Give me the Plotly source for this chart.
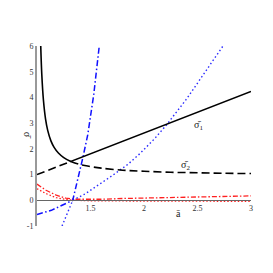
import plotly.graph_objects as go

# --- black branches: hyperbola-like curve and straight line ---
hyp_a = [1.035, 1.045, 1.06, 1.08, 1.10, 1.13, 1.16, 1.20, 1.25, 1.316,
         1.40, 1.50, 1.60, 1.80, 2.00, 2.25, 2.50, 2.75, 3.00]
hyp_s = [6.00, 4.88, 3.90, 3.16, 2.72, 2.31, 2.06, 1.84, 1.66, 1.51,
         1.39, 1.31, 1.25, 1.17, 1.13, 1.09, 1.07, 1.05, 1.04]
lin_a = [1.0, 1.316, 3.0]
lin_s = [1.0, 1.51, 4.23]
black_cross = 1.316

# --- blue branches: gentle curve f and steep curve g ---
f_a = [1.0, 1.134, 1.334, 1.45, 1.551, 1.70, 1.85, 1.963, 2.10, 2.21, 2.40, 2.60, 2.738]
f_s = [-0.55, -0.39, 0.0, 0.25, 0.52, 0.95, 1.40, 1.82, 2.40, 2.93, 3.95, 5.15, 6.0]
g_a = [1.234, 1.29, 1.334, 1.38, 1.427, 1.474, 1.53, 1.582]
g_s = [-1.0, -0.45, 0.0, 0.75, 1.63, 2.54, 4.10, 6.0]
blue_cross = 1.334

# --- red curves ---
red_dd_a = [1.0, 1.084, 1.18, 1.27, 1.35, 1.45, 1.6, 1.8, 2.0, 2.25, 2.5, 2.75, 3.0]
red_dd_s = [0.63, 0.39, 0.20, 0.08, 0.04, 0.03, 0.04, 0.07, 0.09, 0.11, 0.13, 0.15, 0.17]
red_dot_a = [1.0, 1.084, 1.18, 1.27, 1.35, 1.5, 2.0, 2.5, 3.0]
red_dot_s = [0.45, 0.26, 0.10, 0.03, 0.0, -0.02, -0.03, -0.04, -0.04]

x_tickvals = [1.5, 2, 2.5, 3]
x_ticktext = ["1.5", "2", "2.5", "3"]
y_tickvals = [-1, 0, 1, 2, 3, 4, 5, 6]
y_ticktext = ["-1", "0", "1", "2", "3", "4", "5", "6"]


def part(xs, ys, lo, hi):
    px, py = [], []
    for x, y in zip(xs, ys):
        if lo - 1e-9 <= x <= hi + 1e-9:
            px.append(x)
            py.append(y)
    return px, py


def join(p1, p2):
    return p1[0] + p2[0], p1[1] + p2[1]


solid_black = join(part(hyp_a, hyp_s, 0, black_cross), part(lin_a, lin_s, black_cross, 9))
dash_black = join(part(lin_a, lin_s, 0, black_cross), part(hyp_a, hyp_s, black_cross, 9))
dd_blue = join(part(f_a, f_s, 0, blue_cross), part(g_a, g_s, blue_cross, 9))
dot_blue = join(part(g_a, g_s, 0, blue_cross), part(f_a, f_s, blue_cross, 9))

SERIF = "Liberation Serif, Times New Roman, serif"

fig = go.Figure()
fig.add_trace(go.Scatter(x=red_dot_a, y=red_dot_s, mode="lines",
                         line=dict(color="#ff2020", width=1.3, dash="1.5px,2px")))
fig.add_trace(go.Scatter(x=red_dd_a, y=red_dd_s, mode="lines",
                         line=dict(color="#ff2020", width=1.3, dash="5px,2px,1.5px,2px")))
fig.add_trace(go.Scatter(x=dot_blue[0], y=dot_blue[1], mode="lines",
                         line=dict(color="#2a2aff", width=1.4, dash="1.5px,2.5px")))
fig.add_trace(go.Scatter(x=dd_blue[0], y=dd_blue[1], mode="lines",
                         line=dict(color="#1010ff", width=1.5, dash="6px,2.5px,1.5px,2.5px")))
fig.add_trace(go.Scatter(x=dash_black[0], y=dash_black[1], mode="lines", line_shape="spline",
                         line=dict(color="black", width=1.6, dash="8px,4px")))
fig.add_trace(go.Scatter(x=solid_black[0], y=solid_black[1], mode="lines", line_shape="spline",
                         line=dict(color="black", width=1.6)))

fig.update_layout(
    width=265, height=265,
    margin=dict(l=29, r=22, t=38, b=47),
    plot_bgcolor="white", paper_bgcolor="white",
    showlegend=False,
    font=dict(family=SERIF, size=8, color="#333"),
    xaxis=dict(range=[1, 3], anchor="free", position=1 / 7,
               showline=True, linecolor="#666", linewidth=1,
               tickvals=x_tickvals, ticktext=x_ticktext, ticks="",
               showgrid=False, zeroline=False,
               tickfont=dict(family=SERIF, size=8, color="#333")),
    yaxis=dict(range=[-1, 6], showline=True, linecolor="#999", linewidth=2,
               tickvals=y_tickvals, ticktext=y_ticktext, ticks="",
               showgrid=False, zeroline=False,
               tickfont=dict(family=SERIF, size=8, color="#333")),
    annotations=[
        dict(x=2.505, y=2.92, xref="x", yref="y", text="\u03c3\u0304<sub>1</sub>",
             showarrow=False, font=dict(family=SERIF, size=10, color="#222")),
        dict(x=2.39, y=1.36, xref="x", yref="y", text="\u03c3\u0304<sub>2</sub>",
             showarrow=False, font=dict(family=SERIF, size=10, color="#222")),
        dict(x=2.32, y=-0.51, xref="x", yref="y", text="a\u0304",
             showarrow=False, font=dict(family=SERIF, size=10, color="#222")),
        dict(x=(20 - 37) / 214, y=2.53, xref="paper", yref="y", text="\u03c3\u0304",
             textangle=90, showarrow=False, font=dict(family=SERIF, size=10, color="#222")),
    ],
)

fig.write_html("out.html")
